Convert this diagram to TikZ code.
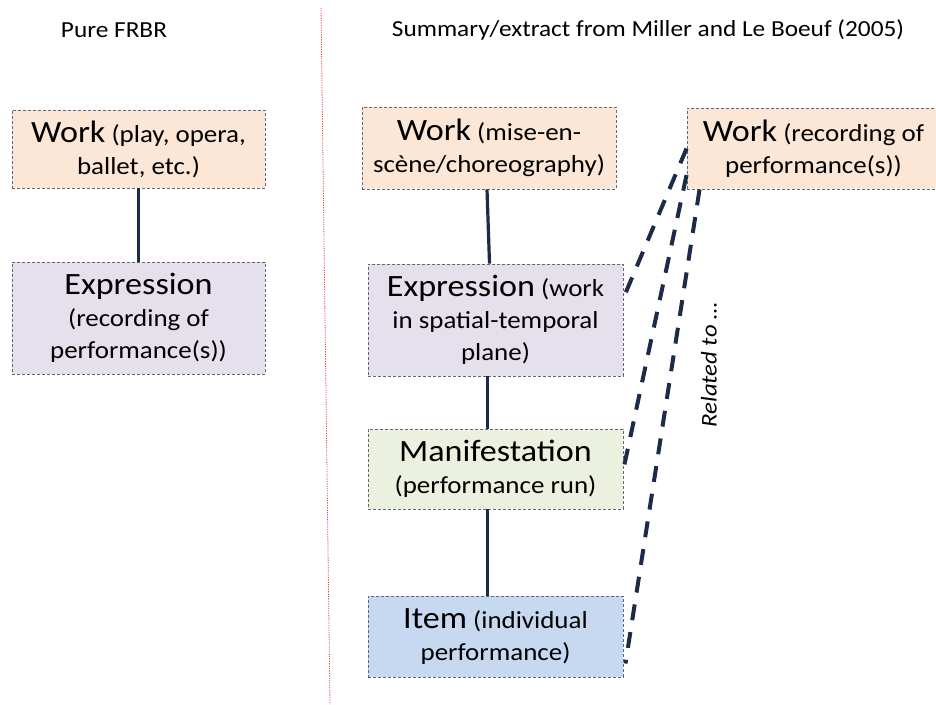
\documentclass[tikz,border=0pt]{standalone}
\usepackage{fontspec}
\setmainfont{Carlito}[FakeStretch=1.1]
\usetikzlibrary{calc}
\definecolor{peach}{HTML}{FCE6D6}
\definecolor{lavender}{HTML}{E5E0EC}
\definecolor{palegreen}{HTML}{EBF1DE}
\definecolor{paleblue}{HTML}{C6D9F1}
\definecolor{boxborder}{HTML}{5E6878}
\definecolor{navy}{HTML}{1C2B48}
\definecolor{divider}{HTML}{F04040}
\newcommand{\bigw}[1]{{\fontsize{31}{32}\selectfont #1}}
\tikzset{
  entity/.style={draw=boxborder, line width=0.9pt, dash pattern=on 3pt off 2pt,
    minimum width=254pt, inner sep=0pt, align=center,
    font=\fontsize{24.5}{32}\selectfont},
  link/.style={draw=navy, line width=3.2pt},
  relation/.style={draw=navy, line width=4pt, dash pattern=on 16pt off 12pt},
  heading/.style={font=\fontsize{23}{28}\selectfont, inner sep=0pt},
  divline/.style={draw=divider, line width=0.8pt, dash pattern=on 1.2pt off 1.2pt}
}
\begin{document}
\begin{tikzpicture}[x=1pt, y=-1pt]
\useasboundingbox (0,0) rectangle (936,704);
% headings
\node[heading] (h1) at (114,30) {Pure FRBR};
\node[heading] (h2) at (648,30) {Summary/extract from Miller and Le Boeuf (2005)};
% divider
\coordinate (dtop) at (321,8);
\coordinate (dbot) at (330,704);
\draw[divline] (dtop) -- (dbot);
% left column
\node[entity, fill=peach, minimum width=253pt, minimum height=78pt] (lw) at (138.5,149)
  {\bigw{Work} (play, opera,\\ ballet, etc.)};
\node[entity, fill=lavender, minimum width=253pt, minimum height=112pt] (le) at (138.5,318)
  {\bigw{Expression}\\ (recording of\\ performance(s))};
\draw[link] (lw.south) -- (le.north);
% middle column
\node[entity, fill=peach, minimum height=82pt] (mw) at (489,148)
  {\bigw{Work} (mise-en-\\ scène/choreography)};
\node[entity, fill=lavender, minimum width=255pt, minimum height=112pt] (me) at (495.5,320)
  {\bigw{Expression} (work\\ in spatial-temporal\\ plane)};
\node[entity, fill=palegreen, minimum width=255pt, minimum height=80pt] (mm) at (495.5,469)
  {\bigw{Manifestation}\\ (performance run)};
\node[entity, fill=paleblue, minimum width=255pt, minimum height=81pt] (mi) at (495.5,636.5)
  {\bigw{Item} (individual\\ performance)};
\draw[link] ([xshift=-2pt]mw.south) -- ([xshift=-6pt]me.north);
\draw[link] ([xshift=-8pt]me.south) -- ([xshift=-8pt]mm.north);
\draw[link] ([xshift=-8pt]mm.south) -- ([xshift=-8pt]mi.north);
% right column
\node[entity, fill=peach, minimum width=253pt, minimum height=81pt] (rw) at (813.5,148.5)
  {\bigw{Work} (recording of\\ performance(s))};
\draw[relation] (rw.west) -- ([yshift=22pt]me.east);
\draw[relation] ([yshift=-26.5pt]rw.west) -- (mm.east);
\draw[relation] ([xshift=13pt]rw.south west) -- ([xshift=2pt,yshift=-27pt]mi.east);
\node[rotate=90, font=\fontsize{22.5}{26}\selectfont\itshape, inner sep=0pt] (rel) at (709,365) {Related to …};
\end{tikzpicture}
\end{document}
